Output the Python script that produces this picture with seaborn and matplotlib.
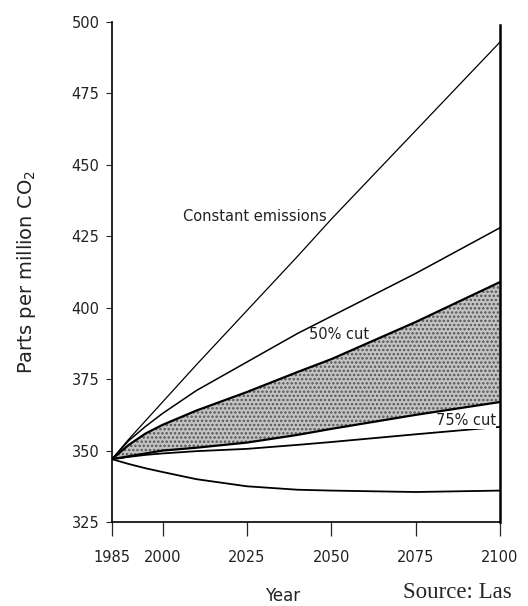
import matplotlib
matplotlib.use("Agg")
import matplotlib.pyplot as plt
import seaborn as sns
import pandas as pd
import numpy as np

years = [1985, 1990, 1995, 2000, 2010, 2025, 2040, 2050, 2075, 2100]
constant_emissions = [347, 354, 360.5, 367, 380, 399, 418, 431, 462, 493]
scenario_upper = [347, 353.5, 358.5, 363, 371, 381, 391, 397, 412, 428]
band_top = [347, 352, 356, 359, 364, 370.5, 377.5, 382, 395, 409]
band_bottom = [347, 348, 349, 350, 351, 352.8, 355.5, 357.6, 362.5, 367]
cut_75 = [347, 347.8, 348.5, 349, 349.8, 350.6, 352, 353, 355.7, 358.3]
lowest = [347, 345.3, 343.8, 342.5, 340, 337.5, 336.3, 336, 335.5, 336]

yticks = [325, 350, 375, 400, 425, 450, 475, 500]
xticks = [1985, 2000, 2025, 2050, 2075, 2100]

series = {
    "Constant emissions": constant_emissions,
    "upper": scenario_upper,
    "band_top": band_top,
    "band_bottom": band_bottom,
    "75% cut": cut_75,
    "lowest": lowest,
}
df = pd.concat(
    [pd.DataFrame({"Year": years, "ppm": v, "series": k}) for k, v in series.items()],
    ignore_index=True,
)

sns.set_style("ticks")
plt.rcParams["font.family"] = ["DejaVu Sans"]
plt.rcParams["hatch.linewidth"] = 1.2

fig = plt.figure(figsize=(5.28, 6.06), dpi=100)
ax = fig.add_axes([0.212, 0.1386, 0.735, 0.825])

ax.fill_between(years, band_bottom, band_top, facecolor="#c4c4c4",
                hatch="....", edgecolor="#555555", linewidth=0, zorder=1)

widths = {"Constant emissions": 0.9, "upper": 1.1, "band_top": 1.6,
          "band_bottom": 1.6, "75% cut": 1.3, "lowest": 1.3}
for name, lw in widths.items():
    sns.lineplot(data=df[df["series"] == name], x="Year", y="ppm",
                 color="black", linewidth=lw, ax=ax, legend=False, zorder=3)

ax.set_xlim(1985, 2100)
ax.set_ylim(325, 500)
ax.set_xticks(xticks)
ax.set_yticks(yticks)
ax.tick_params(axis="x", direction="out", length=10, width=0.9, labelsize=10.5, pad=10,
               labelcolor="#222222")
ax.tick_params(axis="y", direction="out", length=4, width=0.8, labelsize=10.5, pad=5,
               labelcolor="#222222")

for s in ["left", "bottom", "right"]:
    ax.spines[s].set_color("black")
    ax.spines[s].set_linewidth(1.2)
ax.spines["right"].set_linewidth(1.8)
ax.spines["right"].set_bounds(325, 499)
ax.spines["top"].set_visible(False)

ax.set_xlabel("")
ax.set_ylabel("Parts per million CO$_2$", fontsize=14, labelpad=24, color="#222222")

ax.text(2006, 432, "Constant emissions", fontsize=10.5, va="center", ha="left", zorder=5,
        color="#222222")
ax.text(2043.5, 390.5, "50% cut", fontsize=10.5, va="center", ha="left", zorder=5,
        color="#222222")
ax.text(2081, 360.5, "75% cut", fontsize=10.5, va="center", ha="left", zorder=5,
        color="#222222", bbox=dict(facecolor="white", edgecolor="none", pad=0.3))

fig.text(283 / 528, 1 - 596 / 606, "Year", fontsize=12, ha="center", va="center",
         color="#222222")
fig.text(403 / 528, 1 - 592 / 606, "Source: Las", fontsize=16.5, ha="left", va="center",
         family=["Liberation Serif", "DejaVu Serif"])

fig.savefig("out.png", dpi=100)
